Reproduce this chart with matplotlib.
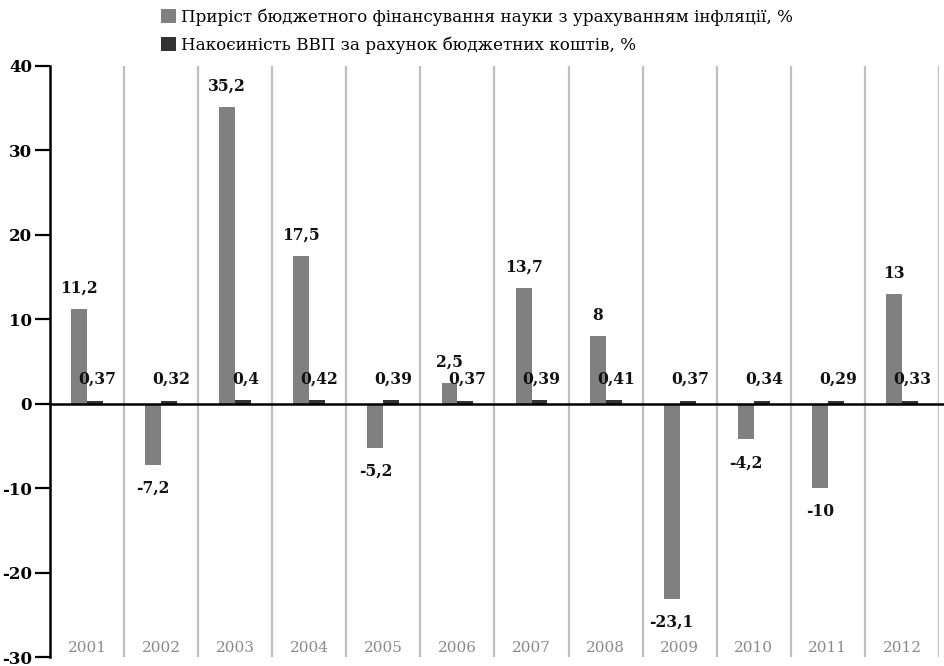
import matplotlib
matplotlib.use("Agg")
import matplotlib.pyplot as plt
import numpy as np

# data
years = ["2001", "2002", "2003", "2004", "2005", "2006",
         "2007", "2008", "2009", "2010", "2011", "2012"]
growth = [11.2, -7.2, 35.2, 17.5, -5.2, 2.5, 13.7, 8, -23.1, -4.2, -10, 13]
gdp_share = [0.37, 0.32, 0.4, 0.42, 0.39, 0.37, 0.39, 0.41, 0.37, 0.34, 0.29, 0.33]
growth_labels = ["11,2", "-7,2", "35,2", "17,5", "-5,2", "2,5",
                 "13,7", "8", "-23,1", "-4,2", "-10", "13"]
share_labels = ["0,37", "0,32", "0,4", "0,42", "0,39", "0,37",
                "0,39", "0,41", "0,37", "0,34", "0,29", "0,33"]
yticks = [40, 30, 20, 10, 0, -10, -20, -30]

legend_names = ["Приріст бюджетного фінансування науки з урахуванням інфляції, %",
                "Накоєиність ВВП за рахунок бюджетних коштів, %"]

GREY = "#808080"
DARK = "#333333"
W, H = 945, 666

fig = plt.figure(figsize=(W / 100, H / 100), dpi=100)
ax = fig.add_axes([50 / W, (H - 657) / H, (939 - 50) / W, (657 - 66) / H])

x = np.arange(len(years))
bw = 0.215
b1 = ax.bar(x - bw / 2, growth, width=bw, color=GREY, zorder=3,
            label=legend_names[0])
b2 = ax.bar(x + bw / 2, gdp_share, width=bw, color=DARK, zorder=3,
            label=legend_names[1])

ax.set_xlim(-0.5, 11.5)
ax.set_ylim(-30, 40)

# vertical separators between years
for xv in np.arange(0.5, 12, 1):
    ax.axvline(xv, color="#bfbfbf", lw=1.6, zorder=1)

# zero line
ax.axhline(0, xmin=0, xmax=1.008, color="black", lw=1.8, zorder=4, clip_on=False)

lab_font = dict(family="DejaVu Serif", fontweight="bold", fontsize=11.2, color="#111111")
for xi, v, s in zip(x, growth, growth_labels):
    off = 15 if v >= 0 else -17
    ax.annotate(s, (xi - bw / 2, v), xytext=(0, off), textcoords="offset points",
                ha="center", va="center", zorder=5, **lab_font)
for xi, v, s in zip(x, gdp_share, share_labels):
    ax.annotate(s, (xi + bw / 2 + 0.03, 0), xytext=(0, 18), textcoords="offset points",
                ha="center", va="center", zorder=5, **lab_font)

# year labels inside the plot at the bottom
for xi, yr in zip(x, years):
    ax.annotate(yr, (xi, -30), xytext=(0, 6.5), textcoords="offset points",
                ha="center", va="center", family="DejaVu Serif", fontsize=11,
                color="#8a8a8a")

ax.set_xticks([])
ax.set_yticks(yticks)
ax.set_yticklabels([str(t) for t in yticks], fontfamily="DejaVu Serif",
                   fontweight="bold", fontsize=12)
ax.tick_params(axis="y", length=11, width=1.6, pad=2)
for side in ["top", "right", "bottom"]:
    ax.spines[side].set_visible(False)
ax.spines["left"].set_linewidth(1.8)

fig.legend(handles=[b1, b2], loc="upper left", bbox_to_anchor=(153 / W, 1 - 0 / H),
           frameon=False, handlelength=0.85, handleheight=0.85, handletextpad=0.3,
           labelspacing=0.62, borderpad=0,
           prop=dict(family="DejaVu Serif", size=12.1))

fig.savefig("out.png", dpi=100)
